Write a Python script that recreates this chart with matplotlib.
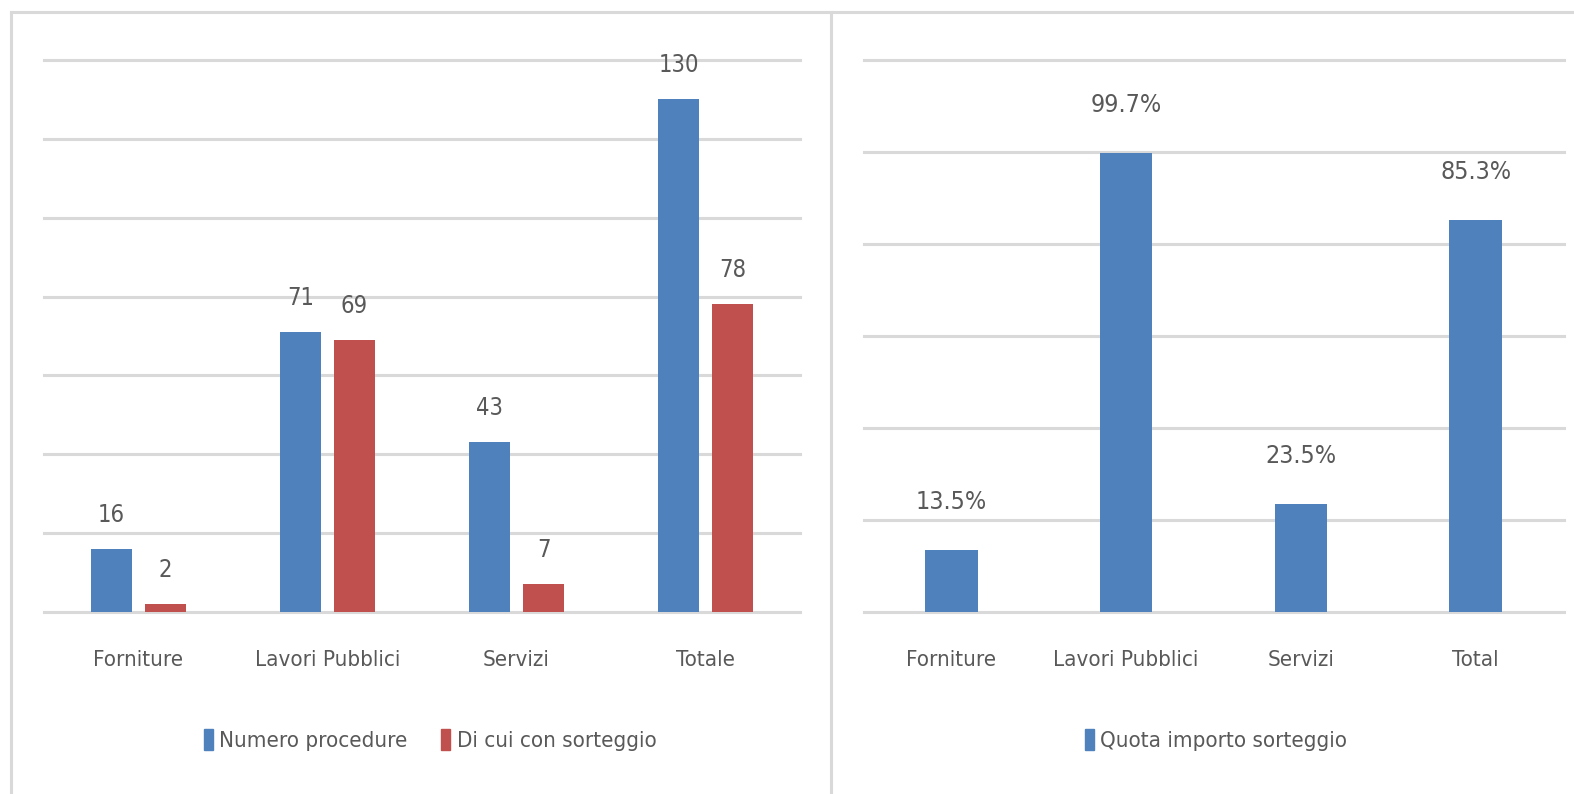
import numpy as np
from matplotlib import pyplot as plt
from matplotlib.patches import Patch
from matplotlib.lines import Line2D

# --- dati ---
categorie_sx = ["Forniture", "Lavori Pubblici", "Servizi", "Totale"]
numero_procedure = [16, 71, 43, 130]
con_sorteggio = [2, 69, 7, 78]

categorie_dx = ["Forniture", "Lavori Pubblici", "Servizi", "Total"]
quota_importo = [13.5, 99.7, 23.5, 85.3]

blu = "#4f81bd"
rosso = "#c0504d"
grigio_testo = "#595959"
grigio_linee = "#d9d9d9"

plt.rcParams['font.family'] = ['DejaVu Sans']
plt.rcParams['font.stretch'] = 'condensed'

W, H = 1574, 794
fig = plt.figure(figsize=(W / 100, H / 100), dpi=100)


def px_axes(x0, x1, ytop, ybot):
    return fig.add_axes([x0 / W, 1 - ybot / H, (x1 - x0) / W, (ybot - ytop) / H])


def stile(ax, passo, ymax):
    for s in ax.spines.values():
        s.set_visible(False)
    ax.set_ylim(0, ymax)
    ax.set_yticks(np.arange(0, ymax + 0.1, passo))
    ax.yaxis.grid(True, color=grigio_linee, linewidth=2.2)
    for g in ax.get_ygridlines():
        g.set_clip_on(False)
    ax.set_axisbelow(True)
    ax.tick_params(axis='y', left=False, labelleft=False)
    ax.tick_params(axis='x', bottom=False, pad=24, labelsize=16, labelcolor=grigio_testo)


# --- grafico sinistro ---
ax1 = px_axes(44, 800, 60, 612)
x = np.arange(len(categorie_sx))
off = 0.143
w = 0.218
b1 = ax1.bar(x - off, numero_procedure, w, color=blu)
b2 = ax1.bar(x + off, con_sorteggio, w, color=rosso)
stile(ax1, 20, 140)
ax1.set_xlim(-0.5, 3.5)
ax1.set_xticks(x)
ax1.set_xticklabels(categorie_sx)
for barre in (b1, b2):
    ax1.bar_label(barre, padding=16, fontsize=17, color=grigio_testo)
ax1.legend([Patch(color=blu), Patch(color=rosso)],
           ["Numero procedure", "Di cui con sorteggio"],
           loc='center', bbox_to_anchor=(430 / W, 1 - 740 / H), bbox_transform=fig.transFigure,
           ncol=2, frameon=False, fontsize=16, labelcolor=grigio_testo,
           handlelength=0.4, handleheight=1.1, handletextpad=0.3, columnspacing=1.5)

# --- grafico destro ---
ax2 = px_axes(864, 1564, 60, 612)
x2 = np.arange(len(categorie_dx))
b3 = ax2.bar(x2, quota_importo, 0.30, color=blu)
stile(ax2, 20, 120)
ax2.set_xlim(-0.5, 3.506)
ax2.set_xticks(x2)
ax2.set_xticklabels(categorie_dx)
ax2.bar_label(b3, labels=[f"{v:.1f}%" for v in quota_importo], padding=26,
              fontsize=18, color=grigio_testo)
ax2.legend([Patch(color=blu)], ["Quota importo sorteggio"],
           loc='center', bbox_to_anchor=(1216 / W, 1 - 740 / H), bbox_transform=fig.transFigure,
           frameon=False, fontsize=16, labelcolor=grigio_testo,
           handlelength=0.4, handleheight=1.1, handletextpad=0.3)

# --- cornici ---
for (xa, ya, xb, yb) in [(11, 12, 1574, 12), (11, 12, 11, 794), (831, 12, 831, 794)]:
    fig.add_artist(Line2D([xa / W, xb / W], [1 - ya / H, 1 - yb / H],
                          transform=fig.transFigure, color=grigio_linee, linewidth=2.2))

fig.savefig("out.png", dpi=100)
